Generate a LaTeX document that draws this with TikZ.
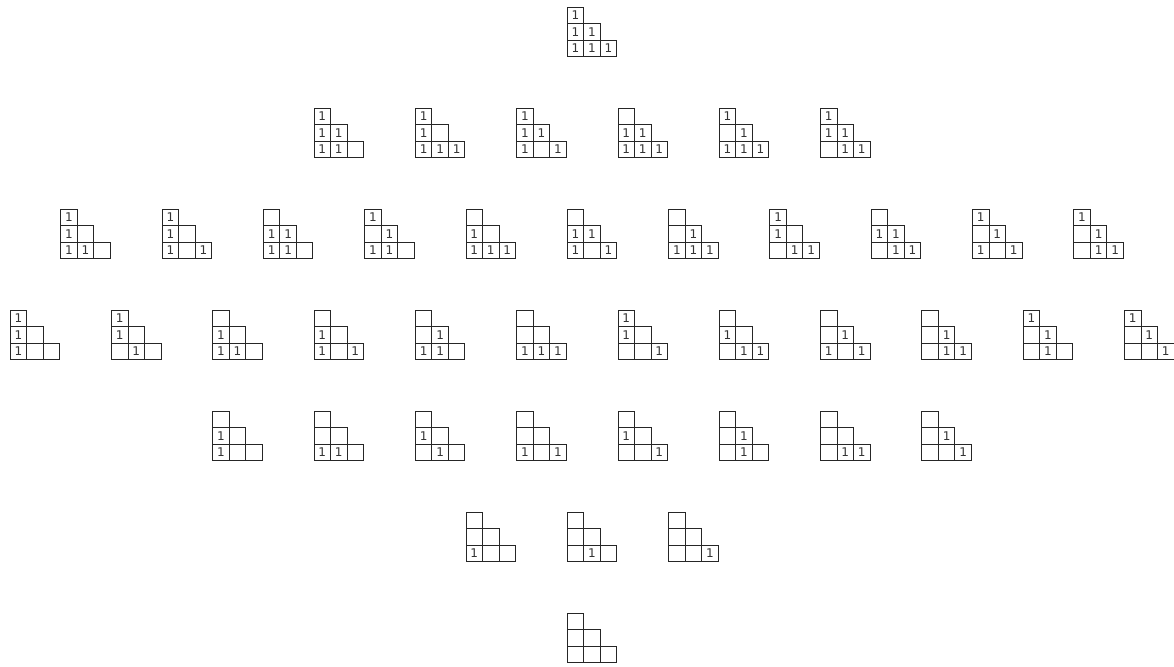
\documentclass[tikz,border=0pt]{standalone}
\usepackage{fontspec}
\setmainfont{DejaVu Sans}
\tikzset{
  cell/.style={draw=black!85, line width=0.9pt, minimum size=16.5pt, inner sep=0pt, outer sep=0pt,
    font=\fontsize{12}{13}\selectfont, text=black!80}
}
% #1 name, #2 column offset k, #3 row r, #4 top, #5 #6 middle, #7 #8 #9 bottom
\newcommand\stair[9]{%
  \node[cell] (#1a) at ({567.3+#2*101.3+8.25},{7+#3*101+8.25}) {#4};
  \node[cell] (#1b) at ({567.3+#2*101.3+8.25},{7+#3*101+24.75}) {#5};
  \node[cell] (#1c) at ({567.3+#2*101.3+24.75},{7+#3*101+24.75}) {#6};
  \node[cell] (#1d) at ({567.3+#2*101.3+8.25},{7+#3*101+41.25}) {#7};
  \node[cell] (#1e) at ({567.3+#2*101.3+24.75},{7+#3*101+41.25}) {#8};
  \node[cell] (#1f) at ({567.3+#2*101.3+41.25},{7+#3*101+41.25}) {#9};
}
\begin{document}
\begin{tikzpicture}[x=1pt,y=-1pt]
\useasboundingbox (0,0) rectangle (1174,666);
% row 0
\stair{t0-1}{0}{0}{1}{1}{1}{1}{1}{1}
% row 1
\stair{t1-1}{-2.5}{1}{1}{1}{1}{1}{1}{}
\stair{t1-2}{-1.5}{1}{1}{1}{}{1}{1}{1}
\stair{t1-3}{-0.5}{1}{1}{1}{1}{1}{}{1}
\stair{t1-4}{0.5}{1}{}{1}{1}{1}{1}{1}
\stair{t1-5}{1.5}{1}{1}{}{1}{1}{1}{1}
\stair{t1-6}{2.5}{1}{1}{1}{1}{}{1}{1}
% row 2
\stair{t2-1}{-5}{2}{1}{1}{}{1}{1}{}
\stair{t2-2}{-4}{2}{1}{1}{}{1}{}{1}
\stair{t2-3}{-3}{2}{}{1}{1}{1}{1}{}
\stair{t2-4}{-2}{2}{1}{}{1}{1}{1}{}
\stair{t2-5}{-1}{2}{}{1}{}{1}{1}{1}
\stair{t2-6}{0}{2}{}{1}{1}{1}{}{1}
\stair{t2-7}{1}{2}{}{}{1}{1}{1}{1}
\stair{t2-8}{2}{2}{1}{1}{}{}{1}{1}
\stair{t2-9}{3}{2}{}{1}{1}{}{1}{1}
\stair{t2-10}{4}{2}{1}{}{1}{1}{}{1}
\stair{t2-11}{5}{2}{1}{}{1}{}{1}{1}
% row 3
\stair{t3-1}{-5.5}{3}{1}{1}{}{1}{}{}
\stair{t3-2}{-4.5}{3}{1}{1}{}{}{1}{}
\stair{t3-3}{-3.5}{3}{}{1}{}{1}{1}{}
\stair{t3-4}{-2.5}{3}{}{1}{}{1}{}{1}
\stair{t3-5}{-1.5}{3}{}{}{1}{1}{1}{}
\stair{t3-6}{-0.5}{3}{}{}{}{1}{1}{1}
\stair{t3-7}{0.5}{3}{1}{1}{}{}{}{1}
\stair{t3-8}{1.5}{3}{}{1}{}{}{1}{1}
\stair{t3-9}{2.5}{3}{}{}{1}{1}{}{1}
\stair{t3-10}{3.5}{3}{}{}{1}{}{1}{1}
\stair{t3-11}{4.5}{3}{1}{}{1}{}{1}{}
\stair{t3-12}{5.5}{3}{1}{}{1}{}{}{1}
% row 4
\stair{t4-1}{-3.5}{4}{}{1}{}{1}{}{}
\stair{t4-2}{-2.5}{4}{}{}{}{1}{1}{}
\stair{t4-3}{-1.5}{4}{}{1}{}{}{1}{}
\stair{t4-4}{-0.5}{4}{}{}{}{1}{}{1}
\stair{t4-5}{0.5}{4}{}{1}{}{}{}{1}
\stair{t4-6}{1.5}{4}{}{}{1}{}{1}{}
\stair{t4-7}{2.5}{4}{}{}{}{}{1}{1}
\stair{t4-8}{3.5}{4}{}{}{1}{}{}{1}
% row 5
\stair{t5-1}{-1}{5}{}{}{}{1}{}{}
\stair{t5-2}{0}{5}{}{}{}{}{1}{}
\stair{t5-3}{1}{5}{}{}{}{}{}{1}
% row 6
\stair{t6-1}{0}{6}{}{}{}{}{}{}
\end{tikzpicture}
\end{document}
